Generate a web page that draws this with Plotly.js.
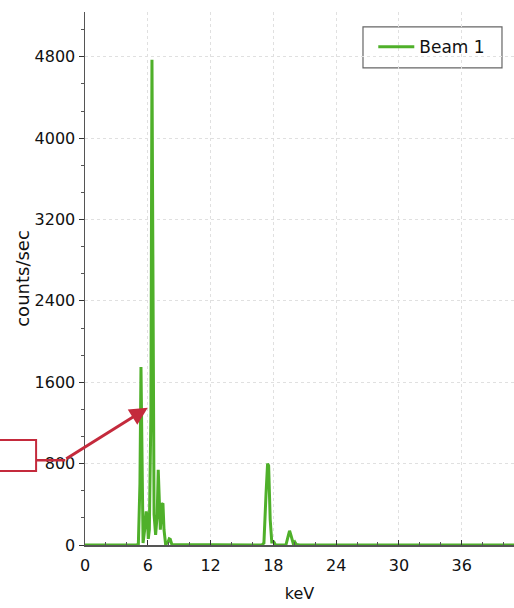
<!DOCTYPE html>
<html>
<head>
<meta charset="utf-8">
<script src="https://cdn.plot.ly/plotly-3.0.1.min.js"></script>
<style>html,body{margin:0;padding:0;background:#fff;}#chart{width:514px;height:608px;}</style>
</head>
<body>
<div id="chart"></div>
<script>
// Spectrum
const energyKeV = [0, 4.9, 5.1, 5.25, 5.35, 5.45, 5.55, 5.7, 5.85, 5.95, 6.05, 6.15, 6.3, 6.4, 6.5, 6.6, 6.75, 6.9, 7.0, 7.1, 7.2, 7.35, 7.45, 7.55, 7.7, 7.9, 8.05, 8.15, 8.3,
  16.9, 17.1, 17.3, 17.45, 17.55, 17.7, 17.85, 18.05, 18.2, 19.2, 19.4, 19.55, 19.7, 19.9, 20.05, 20.2, 20.5, 41];
const countsPerSec = [0, 0, 10, 600, 1750, 400, 20, 150, 330, 280, 60, 150, 1300, 4770, 2000, 300, 100, 300, 740, 500, 150, 400, 410, 150, 10, 20, 60, 55, 5,
  0, 20, 500, 800, 780, 250, 30, 30, 0, 0, 80, 140, 90, 15, 30, 5, 0, 0];
const seriesName = "Beam 1";
const xTickVals = [0, 6, 12, 18, 24, 30, 36];
const yTickVals = [0, 800, 1600, 2400, 3200, 4000, 4800];

const trace = {
  x: energyKeV, y: countsPerSec, name: seriesName, type: "scatter", mode: "lines",
  line: {color: "#4fb02a", width: 3}, showlegend: true
};

const axisFont = {family: "DejaVu Sans", size: 16, color: "#111"};
const layout = {
  width: 514, height: 608,
  margin: {l: 85, r: 0, t: 12, b: 63},
  paper_bgcolor: "#fff", plot_bgcolor: "#fff",
  showlegend: true,
  xaxis: {
    range: [0, 41], tickvals: xTickVals, ticktext: xTickVals.map(String),
    ticks: "inside", ticklen: 5, tickcolor: "#333", ticklabelstandoff: 5,
    minor: {dtick: 2, ticks: "inside", ticklen: 3, tickcolor: "#555", showgrid: false},
    showline: true, linecolor: "#555", linewidth: 1.5,
    showgrid: true, gridcolor: "#e0e0e0", griddash: "dot", gridwidth: 1,
    zeroline: false, tickfont: axisFont,
    title: {text: "keV", font: {family: "DejaVu Sans", size: 16, color: "#111"}, standoff: 14}
  },
  yaxis: {
    range: [0, 5240], tickvals: yTickVals, ticktext: yTickVals.map(String),
    ticks: "outside", ticklen: 5, tickcolor: "#333",
    minor: {tickvals: [266.7, 533.3, 1066.7, 1333.3, 1866.7, 2133.3, 2666.7, 2933.3, 3466.7, 3733.3, 4266.7, 4533.3, 5066.7], ticks: "outside", ticklen: 3, tickcolor: "#555", showgrid: false},
    showline: true, linecolor: "#555", linewidth: 1.5,
    showgrid: true, gridcolor: "#e0e0e0", griddash: "dot", gridwidth: 1,
    zeroline: false, tickfont: axisFont,
    title: {text: "counts/sec", font: {family: "DejaVu Sans", size: 18, color: "#111"}, standoff: 0}
  },
  legend: {
    x: 0.672, y: 0.934, xanchor: "left", yanchor: "middle",
    bgcolor: "rgba(0,0,0,0)", borderwidth: 0,
    font: {family: "DejaVu Sans", size: 17, color: "#111"},
    itemwidth: 36
  },
  shapes: [
    {type: "rect", xref: "paper", yref: "paper", x0: 0.648, x1: 0.972, y0: 0.895, y1: 0.972,
      line: {color: "#666", width: 1.2}, fillcolor: "#fff", layer: "between"},
    {type: "rect", xref: "paper", yref: "paper", x0: -0.22, x1: -0.114, y0: 0.139, y1: 0.197,
      line: {color: "#c42a3c", width: 2}, fillcolor: "rgba(0,0,0,0)", layer: "above"},
    {type: "line", xref: "paper", yref: "paper", x0: -0.114, x1: -0.046, y0: 0.159, y1: 0.159,
      line: {color: "#c42a3c", width: 2.5}, layer: "above"}
  ],
  annotations: [
    {x: 6.0, y: 1350, xref: "x", yref: "y", ax: -83, ay: 52, axref: "pixel", ayref: "pixel",
      showarrow: true, arrowhead: 2, arrowsize: 1.2, arrowwidth: 3, arrowcolor: "#c42a3c", text: ""}
  ]
};

Plotly.newPlot("chart", [trace], layout, {displayModeBar: false, staticPlot: true});
</script>
</body>
</html>
